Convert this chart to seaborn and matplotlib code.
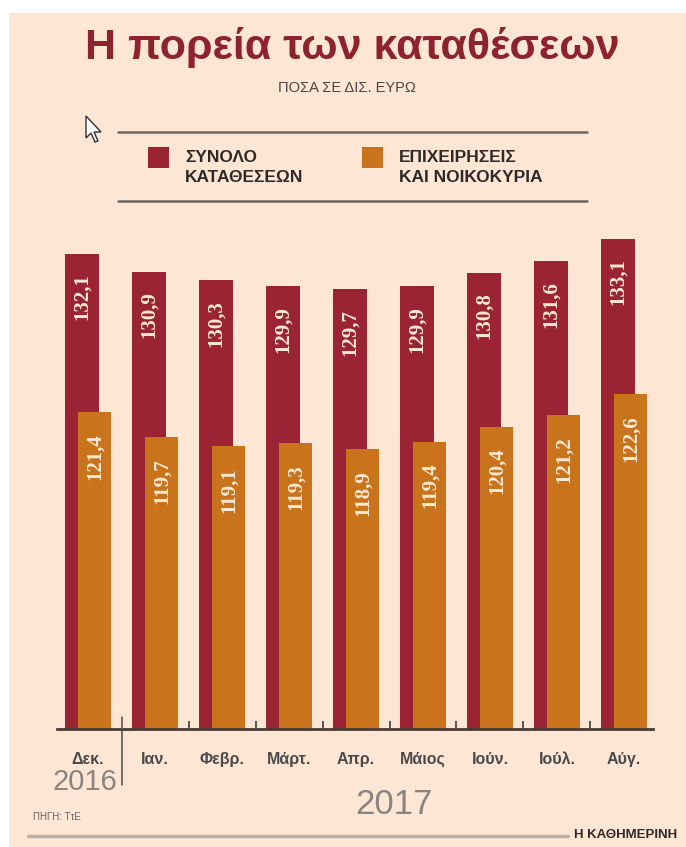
import numpy as np
import pandas as pd
import matplotlib
matplotlib.use("Agg")
import matplotlib.pyplot as plt
import seaborn as sns
from matplotlib import font_manager
from matplotlib.patches import Rectangle, Polygon
from matplotlib.lines import Line2D

# Deposits in billion euro, Dec 2016 - Aug 2017
months = ["Δεκ.", "Ιαν.", "Φεβρ.", "Μάρτ.", "Απρ.", "Μάιος", "Ιούν.", "Ιούλ.", "Αύγ."]
total_deposits = [132.1, 130.9, 130.3, 129.9, 129.7, 129.9, 130.8, 131.6, 133.1]
business_households = [121.4, 119.7, 119.1, 119.3, 118.9, 119.4, 120.4, 121.2, 122.6]
years = ["2016", "2017"]
series_labels = ["ΣΥΝΟΛΟ\nΚΑΤΑΘΕΣΕΩΝ", "ΕΠΙΧΕΙΡΗΣΕΙΣ\nΚΑΙ ΝΟΙΚΟΚΥΡΙΑ"]
title = "Η πορεία των καταθέσεων"
subtitle = "ΠΟΣΑ ΣΕ ΔΙΣ. ΕΥΡΩ"
source = "ΠΗΓΗ: ΤτΕ"
brand = "Η ΚΑΘΗΜΕΡΙΝΗ"

BG = "#FDE6D4"
RED = "#9A2433"
ORANGE = "#C9731C"
TITLE_RED = "#8E2330"
VALUE_TXT = "#FCE9D3"
DARK = "#3F3A38"
GREY = "#8A8480"

sns.set_theme(style="white")
installed = {f.name for f in font_manager.fontManager.ttflist}
NARROW = "Liberation Sans Narrow" if "Liberation Sans Narrow" in installed else "Liberation Sans"
plt.rcParams["font.family"] = ["Liberation Sans", "DejaVu Sans"]

W, H = 686, 847
fig = plt.figure(figsize=(W / 100, H / 100), dpi=100)
fig.patch.set_facecolor("white")


def fx(px):
    return px / W


def fy(py):
    return 1 - py / H


# cream panel
fig.add_artist(Rectangle((fx(9), 0), 1 - fx(9), fy(13), transform=fig.transFigure,
                         facecolor=BG, edgecolor="none", zorder=-10))

base_px, top_px = 728.5, 211.0
ax = fig.add_axes([fx(57), fy(base_px), fx(653) - fx(57), (base_px - top_px) / H])
ax.set_facecolor("none")

pos = np.arange(len(months))
df_total = pd.DataFrame({"pos": pos - 0.09, "value": total_deposits})
df_bh = pd.DataFrame({"pos": pos + 0.10, "value": business_households})

sns.barplot(data=df_total, x="pos", y="value", native_scale=True, width=0.51,
            color=RED, saturation=1, errorbar=None, linewidth=0, zorder=2, ax=ax)
sns.barplot(data=df_bh, x="pos", y="value", native_scale=True, width=0.50,
            color=ORANGE, saturation=1, errorbar=None, linewidth=0, zorder=3, ax=ax)

ax.set_xlim(-0.463, 8.433)
ax.set_ylim(100, 135)
ax.set_xlabel("")
ax.set_ylabel("")
ax.set_yticks([])
for s in ["top", "left", "right"]:
    ax.spines[s].set_visible(False)
ax.spines["bottom"].set_color("#4A3B36")
ax.spines["bottom"].set_linewidth(2)
ax.spines["bottom"].set_zorder(5)

ax.set_xticks(pos, months)
ax.set_xticks(pos[1:-1] + 0.5, minor=True)
ax.tick_params(axis="x", which="major", length=0, pad=17)
ax.tick_params(axis="x", which="minor", direction="in", length=5.5, width=1.2,
               color="#3A3A3A", bottom=True)
for lab in ax.get_xticklabels():
    lab.set_fontweight("bold")
    lab.set_fontsize(11.5)
    lab.set_color("#4A4A4A")

# value labels written up the bars
for x, v in zip(df_total["pos"], df_total["value"]):
    ax.annotate(f"{v:.1f}".replace(".", ","), (x, v), xytext=(0, -14),
                textcoords="offset points", rotation=90, ha="center", va="top",
                family=["Liberation Serif", "DejaVu Serif"], fontweight="bold",
                fontsize=15, color=VALUE_TXT, zorder=6)
for x, v in zip(df_bh["pos"], df_bh["value"]):
    ax.annotate(f"{v:.1f}".replace(".", ","), (x, v), xytext=(0, -15),
                textcoords="offset points", rotation=90, ha="center", va="top",
                family=["Liberation Serif", "DejaVu Serif"], fontweight="bold",
                fontsize=15, color=VALUE_TXT, zorder=6)

# year separator and year labels
xt = ax.get_xaxis_transform()
ax.plot([0.5, 0.5], [(base_px - 717) / (base_px - top_px), (base_px - 785) / (base_px - top_px)],
        transform=xt, color="#4A4A4A", lw=1.1, clip_on=False, zorder=6)
ax.text(0.43, (base_px - 782) / (base_px - top_px), years[0], transform=xt,
        ha="right", va="center", fontsize=21, color=GREY, family=[NARROW, "DejaVu Sans"])
ax.text(4.57, (base_px - 805) / (base_px - top_px), years[1], transform=xt,
        ha="center", va="center", fontsize=25, color=GREY, family=[NARROW, "DejaVu Sans"])

# title block
fig.text(fx(352), fy(47), title, ha="center", va="center", fontsize=31,
         fontweight="bold", color=TITLE_RED)
fig.text(fx(347), fy(88), subtitle, ha="center", va="center", fontsize=10.5,
         color="#4A4545")

# legend between two rules
for yy in (132, 201):
    fig.add_artist(Line2D([fx(118), fx(587)], [fy(yy), fy(yy)], transform=fig.transFigure,
                          color="#6E6560", lw=1.8))
for (sx, tx), col, lab in zip([(148, 185), (362, 399)], [RED, ORANGE], series_labels):
    fig.add_artist(Rectangle((fx(sx), fy(168)), fx(21), 21 / H, transform=fig.transFigure,
                             facecolor=col, edgecolor="none"))
    fig.text(fx(tx), fy(167.5), lab, ha="left", va="center", fontsize=12.5,
             fontweight="bold", color="#2E2A28", linespacing=1.5)

# pointer cursor
cur = np.array([[0, 0], [0, 22], [5, 17], [9, 26], [12, 25], [8, 16], [15, 16]], float)
cur[:, 0] += 86
cur[:, 1] += 116
fig.add_artist(Polygon(np.c_[fx(cur[:, 0]), fy(cur[:, 1])], closed=True,
                       transform=fig.transFigure, facecolor="white",
                       edgecolor="#333333", lw=1.0, zorder=20))

# footer
fig.text(fx(33), fy(817), source, ha="left", va="center", fontsize=7,
         color="#6A6360", family=[NARROW, "DejaVu Sans"])
fig.add_artist(Line2D([fx(28), fx(568)], [fy(836), fy(836)], transform=fig.transFigure,
                      color="#BDAEA5", lw=2.5))
fig.text(fx(677), fy(835), brand, ha="right", va="center", fontsize=9.5,
         fontweight="bold", color="#2E2A28", family=[NARROW, "DejaVu Sans"])

fig.savefig("out.png", dpi=100, facecolor=fig.get_facecolor())
